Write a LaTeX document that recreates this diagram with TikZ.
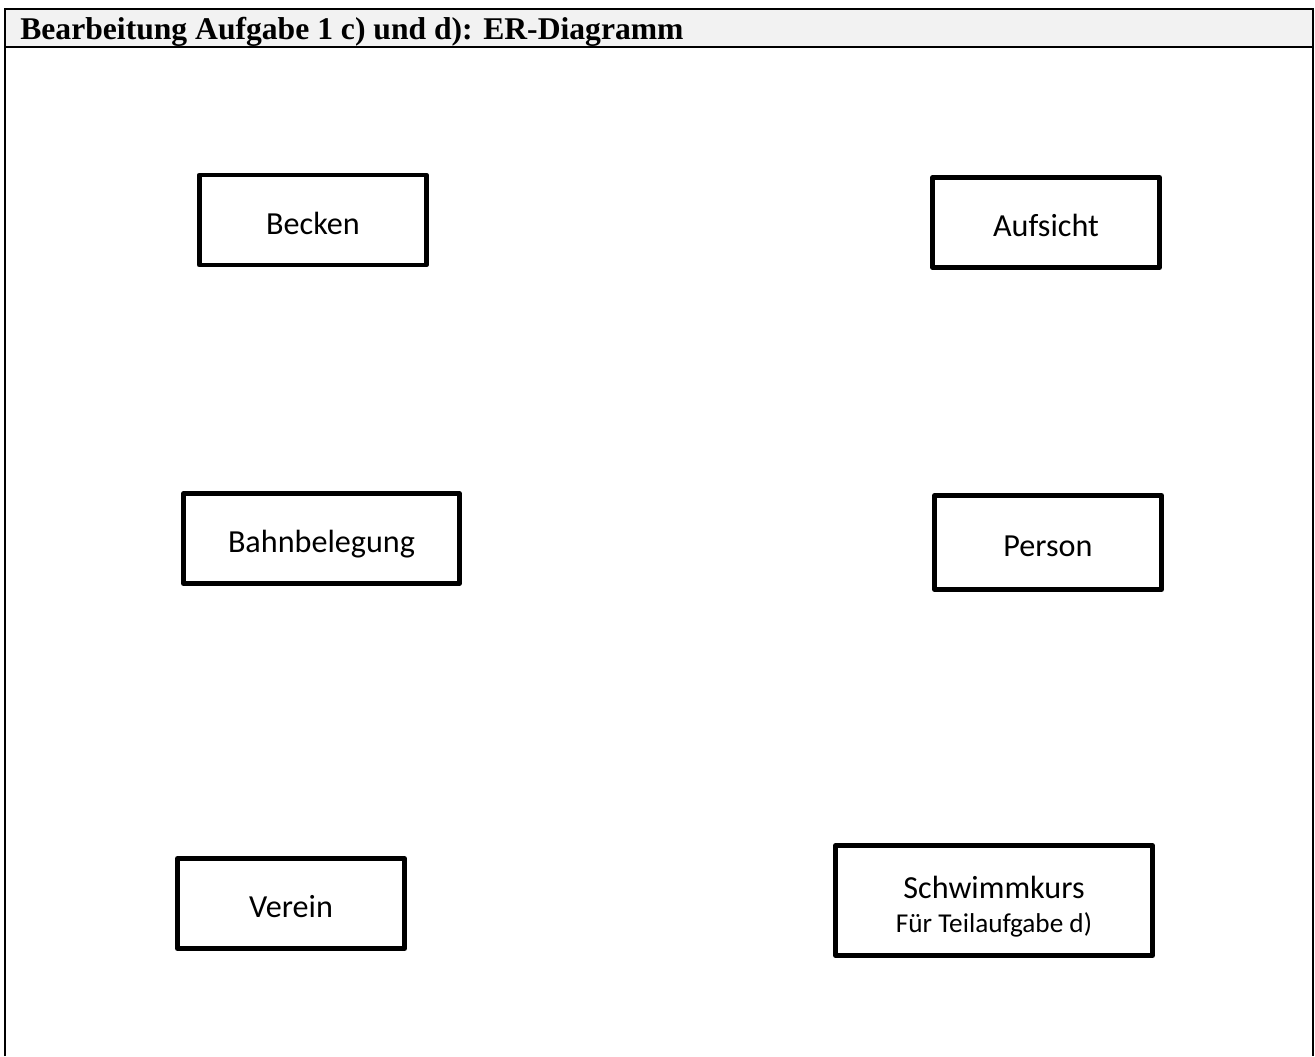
\documentclass[tikz,border=0pt]{standalone}
\usepackage{fontspec}
\setmainfont{Liberation Serif}
\newfontfamily\boxfont{Carlito}
\usetikzlibrary{positioning}
\tikzset{entity/.style={draw,line width=2.8pt,line join=round,minimum width=4.54cm,minimum height=1.8cm,inner sep=0pt,text height=17pt,text depth=1pt,font=\boxfont\fontsize{18.3}{22}\selectfont},
frame/.style={line width=1.2pt}}

\begin{document}
\begin{tikzpicture}[x=0.02cm,y=-0.02cm]
\useasboundingbox (0,0) rectangle (1315,1056);

% Kopfzeile
\fill[black!5] (5,9) rectangle (1313,47);
\draw[frame] (5,1056) -- (5,9) -- (1313,9) -- (1313,1056);
\draw[frame] (5,47) -- (1313,47);
\node (title) at (20,39.5) [anchor=base west,inner sep=0pt,font=\bfseries\fontsize{18}{21}\selectfont] {Bearbeitung Aufgabe 1 c) und d): ER-Diagramm};

% Entitaeten
\node (becken) at (313,220) [entity] {Becken};
\node (aufsicht) at (1046,222.5) [entity] {Aufsicht};
\node (bahn) at (321.5,538.5) [entity,minimum width=5.52cm] {Bahnbelegung};
\node (person) at (1048,542.5) [entity,minimum height=1.88cm] {Person};
\node (verein) at (291,903.5) [entity] {Verein};
\node (kurs) at (994,900.5) [entity,minimum width=6.34cm,minimum height=2.2cm,text height=36pt,text depth=0pt,align=center] {Schwimmkurs\\[-3pt]{\fontsize{15.5}{18}\selectfont F\"ur Teilaufgabe d)}};

\end{tikzpicture}
\end{document}
